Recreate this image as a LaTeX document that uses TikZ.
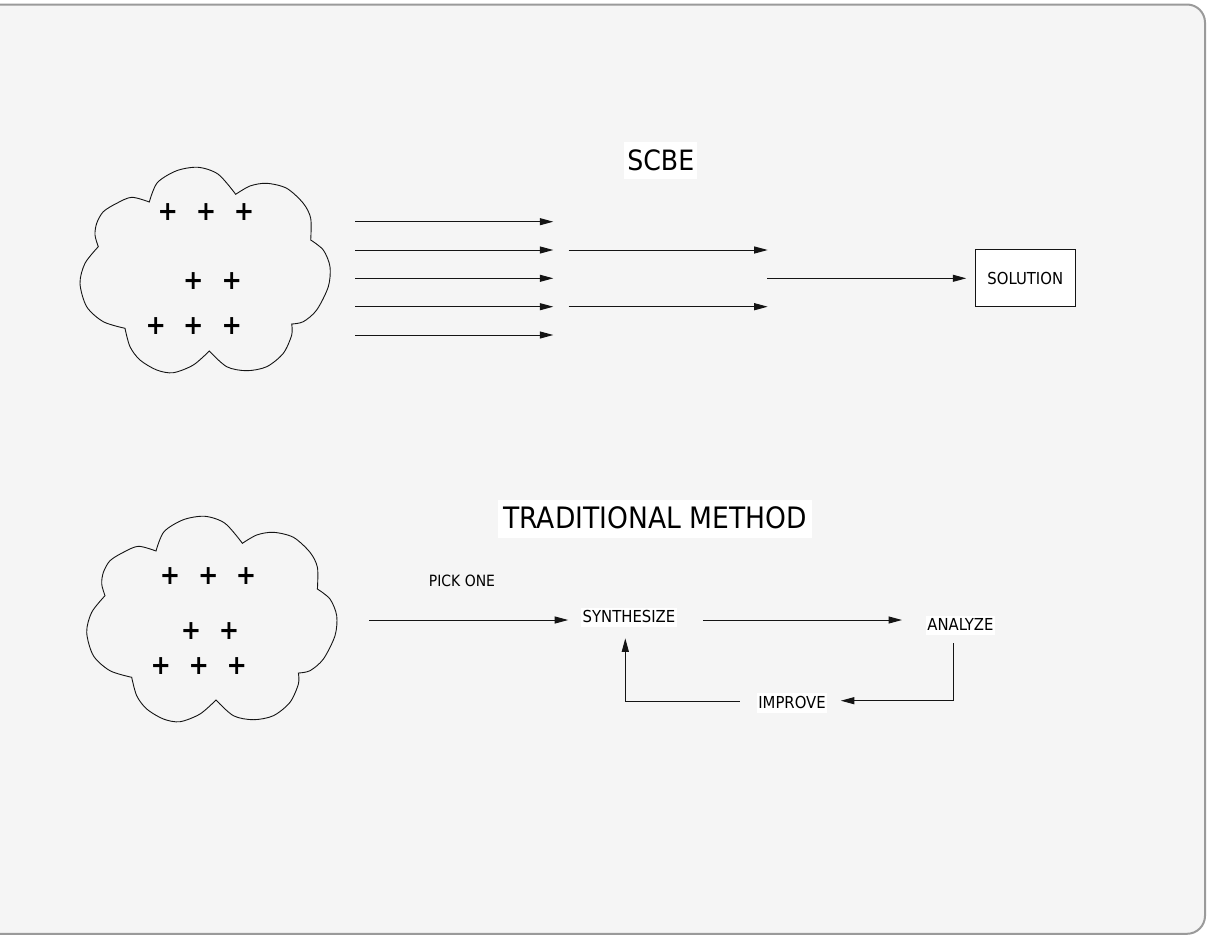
\documentclass[tikz,border=0pt]{standalone}
\usepackage{fontspec}
\setmainfont{DejaVu Sans Condensed}
\usetikzlibrary{arrows.meta}
\definecolor{bgc}{HTML}{F5F5F5}
\definecolor{framec}{HTML}{9A9A9A}
\definecolor{inkc}{HTML}{141414}
\tikzset{
  ln/.style={draw=inkc, line width=1pt},
  arr/.style={ln, -{Triangle[length=13.5pt,width=7pt]}},
  titlebox/.style={fill=white, inner xsep=3pt, inner ysep=0pt, text height=28.3pt, text depth=9.3pt},
  lbl/.style={fill=white, inner xsep=1.5pt, inner ysep=0pt, text height=15pt, text depth=4.5pt, font=\fontsize{16.5}{20}\selectfont},
  plussign/.style={inner sep=0pt, font=\fontsize{27}{30}\selectfont\bfseries},
  cloudline/.style={draw=inkc, line width=0.9pt}
}
\newcommand{\cloudshape}{%
  \draw[cloudline] plot[smooth] coordinates {(98.3,246.7) (95,235) (96.7,223.3) (103.3,211.7) (116.7,203.3) (131.7,197.3) (149.3,202)}
   -- plot[smooth] coordinates {(149.3,202) (157.3,182.7) (176.7,170.7) (198.3,167.3) (218.3,174.3) (235.7,194.3)}
   -- plot[smooth] coordinates {(235.7,194.3) (250,186) (266.7,183.3) (286.7,188.3) (303.3,203.3) (310.7,218.3) (310.7,240)}
   -- plot[smooth] coordinates {(310.7,240) (323.3,250) (330,266.7) (328.3,286.7) (316.7,310) (303.3,321.7) (291.7,324)}
   -- plot[smooth] coordinates {(291.7,324) (291.7,335) (283.3,353.3) (266.7,366.7) (246.7,370.7) (226.7,366.7) (209.3,351)}
   -- plot[smooth] coordinates {(209.3,351) (193.3,365) (173.3,372.7) (156.7,370) (140,360) (130,346.7) (125,328.3)}
   -- plot[smooth] coordinates {(125,328.3) (103.3,321.7) (86.7,306.7) (80,283.3) (85,263.3) (98.3,246.7)} -- cycle;}
\begin{document}
\begin{tikzpicture}[x=1pt,y=-1pt]
\useasboundingbox (0,0) rectangle (1207,937);
\begin{scope}
\clip (0,0) rectangle (1207,937);
\draw[fill=bgc, draw=framec, line width=2pt, rounded corners=18pt] (-40,4.5) rectangle (1205,933.8);
\end{scope}

% ---------- SCBE ----------
\node[titlebox, font=\fontsize{28}{34}\selectfont] (scbe) at (660.8,160.5) {SCBE};
\cloudshape
\node[plussign] (p1) at (167.7,212.3) {+};
\node[plussign] (p2) at (206,212.3) {+};
\node[plussign] (p3) at (244,212.3) {+};
\node[plussign] (p4) at (193.3,280.7) {+};
\node[plussign] (p5) at (231.7,280.7) {+};
\node[plussign] (p6) at (155.7,325.7) {+};
\node[plussign] (p7) at (193.3,325.7) {+};
\node[plussign] (p8) at (231.7,325.7) {+};

\foreach \i/\y in {1/221.7,2/250,3/278.3,4/306.7,5/335}{
  \coordinate (a\i s) at (355,\y);
  \coordinate (a\i e) at (553.3,\y);
  \draw[arr] (a\i s) -- (a\i e);
}
\foreach \i/\y in {1/250,2/306.7}{
  \coordinate (b\i s) at (568.7,\y);
  \coordinate (b\i e) at (767.7,\y);
  \draw[arr] (b\i s) -- (b\i e);
}
\node[draw=inkc, line width=0.9pt, fill=white, minimum width=100pt, minimum height=57.4pt, inner sep=0pt, font=\fontsize{16.5}{20}\selectfont] (sol) at (1025.3,278) {SOLUTION};
\coordinate (cs) at (767.3,278.3);
\draw[arr, shorten >=8.6pt] (cs) -- (cs -| sol.west);

% ---------- TRADITIONAL ----------
\node[titlebox, inner xsep=5pt, font=\fontsize{29.5}{35}\selectfont] (trad) at (655,518.8) {TRADITIONAL METHOD};
\begin{scope}[shift={(6.7,349)}]
\cloudshape
\end{scope}
\node[plussign] (q1) at (170,575.7) {+};
\node[plussign] (q2) at (208.3,575.7) {+};
\node[plussign] (q3) at (246,575.7) {+};
\node[plussign] (q4) at (191,631) {+};
\node[plussign] (q5) at (229,631) {+};
\node[plussign] (q6) at (160.7,665.7) {+};
\node[plussign] (q7) at (198.7,665.7) {+};
\node[plussign] (q8) at (236.7,665.7) {+};

\node[lbl, fill=none, font=\fontsize{15.5}{19}\selectfont] (pick) at (462,581.4) {PICK ONE};
\node[lbl] (syn) at (629,617.4) {SYNTHESIZE};
\node[lbl] (ana) at (960.4,625.4) {ANALYZE};
\node[lbl] (imp) at (792,703.2) {IMPROVE};

\coordinate (ps) at (369,620);
\coordinate (pe) at (568.2,620);
\draw[arr] (ps) -- (pe);
\coordinate (ss) at (702.9,620);
\coordinate (se) at (902,620);
\draw[arr] (ss) -- (se);
\coordinate (an1) at (953,643.3);
\coordinate (an2) at (953,700.7);
\coordinate (an3) at (840.8,700.7);
\draw[arr] (an1) -- (an2) -- (an3);
\coordinate (im1) at (739.6,701.5);
\coordinate (im2) at (625.3,701.5);
\coordinate (im3) at (625.3,638.3);
\draw[arr] (im1) -- (im2) -- (im3);
\end{tikzpicture}
\end{document}
